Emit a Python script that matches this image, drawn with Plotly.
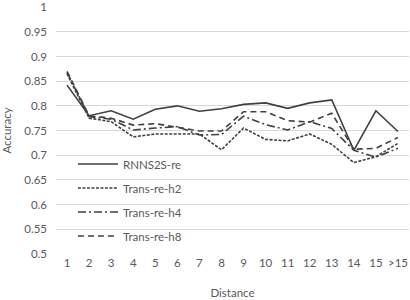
import plotly.graph_objects as go

categories = ["1","2","3","4","5","6","7","8","9","10","11","12","13","14","15",">15"]
rnn = [0.842,0.780,0.790,0.773,0.793,0.800,0.789,0.794,0.803,0.806,0.795,0.806,0.812,0.710,0.790,0.748]
h2 = [0.865,0.775,0.768,0.737,0.743,0.743,0.743,0.711,0.755,0.732,0.729,0.743,0.722,0.685,0.697,0.724]
h4 = [0.868,0.778,0.773,0.751,0.755,0.758,0.741,0.742,0.779,0.762,0.751,0.768,0.754,0.710,0.696,0.714]
h8 = [0.870,0.780,0.775,0.761,0.764,0.756,0.749,0.749,0.788,0.788,0.770,0.767,0.785,0.712,0.714,0.736]
names = ["RNNS2S-re", "Trans-re-h2", "Trans-re-h4", "Trans-re-h8"]
y_ticks = [0.5,0.55,0.6,0.65,0.7,0.75,0.8,0.85,0.9,0.95,1]
y_tick_text = ["0.5","0.55","0.6","0.65","0.7","0.75","0.8","0.85","0.9","0.95","1"]

series = [rnn, h2, h4, h8]
dashes = ["solid", "3px,1.5px", "8px,3px,2px,3px", "6px,4px"]
color = "#404040"

fig = go.Figure()
for i, (vals, name, d) in enumerate(zip(series, names, dashes)):
    fig.add_trace(go.Scatter(
        x=categories, y=vals, mode="lines", name=name,
        line=dict(color=color, width=1.6, dash=d),
        legendgroup=f"g{i}",
    ))

font = dict(family="Lato, Liberation Sans, sans-serif", size=11.5, color="#595959")
fig.update_layout(
    width=410, height=300,
    margin=dict(l=56, r=1, t=7, b=46),
    paper_bgcolor="white", plot_bgcolor="white",
    font=font,
    showlegend=True,
    legend=dict(x=0.048, y=0.423, xanchor="left", yanchor="top",
                bgcolor="rgba(0,0,0,0)", font=font, tracegroupgap=5,
                itemwidth=40),
    xaxis=dict(type="category", range=[-0.5, 15.5], showgrid=False,
               showline=False, ticks="", tickfont=font, automargin=True,
               title=dict(text="Distance", font=font, standoff=21)),
    yaxis=dict(range=[0.4999, 1.0002], tickvals=y_ticks, ticktext=y_tick_text,
               showgrid=True, gridcolor="#d9d9d9", gridwidth=1,
               zeroline=False, showline=False, ticks="", tickfont=font,
               automargin=False, ticklabelstandoff=8,
               title=dict(text="Accuracy", font=font)),
)
fig.write_html("out.html", config={"displayModeBar": False},
               post_script="document.body.style.margin='0';")
